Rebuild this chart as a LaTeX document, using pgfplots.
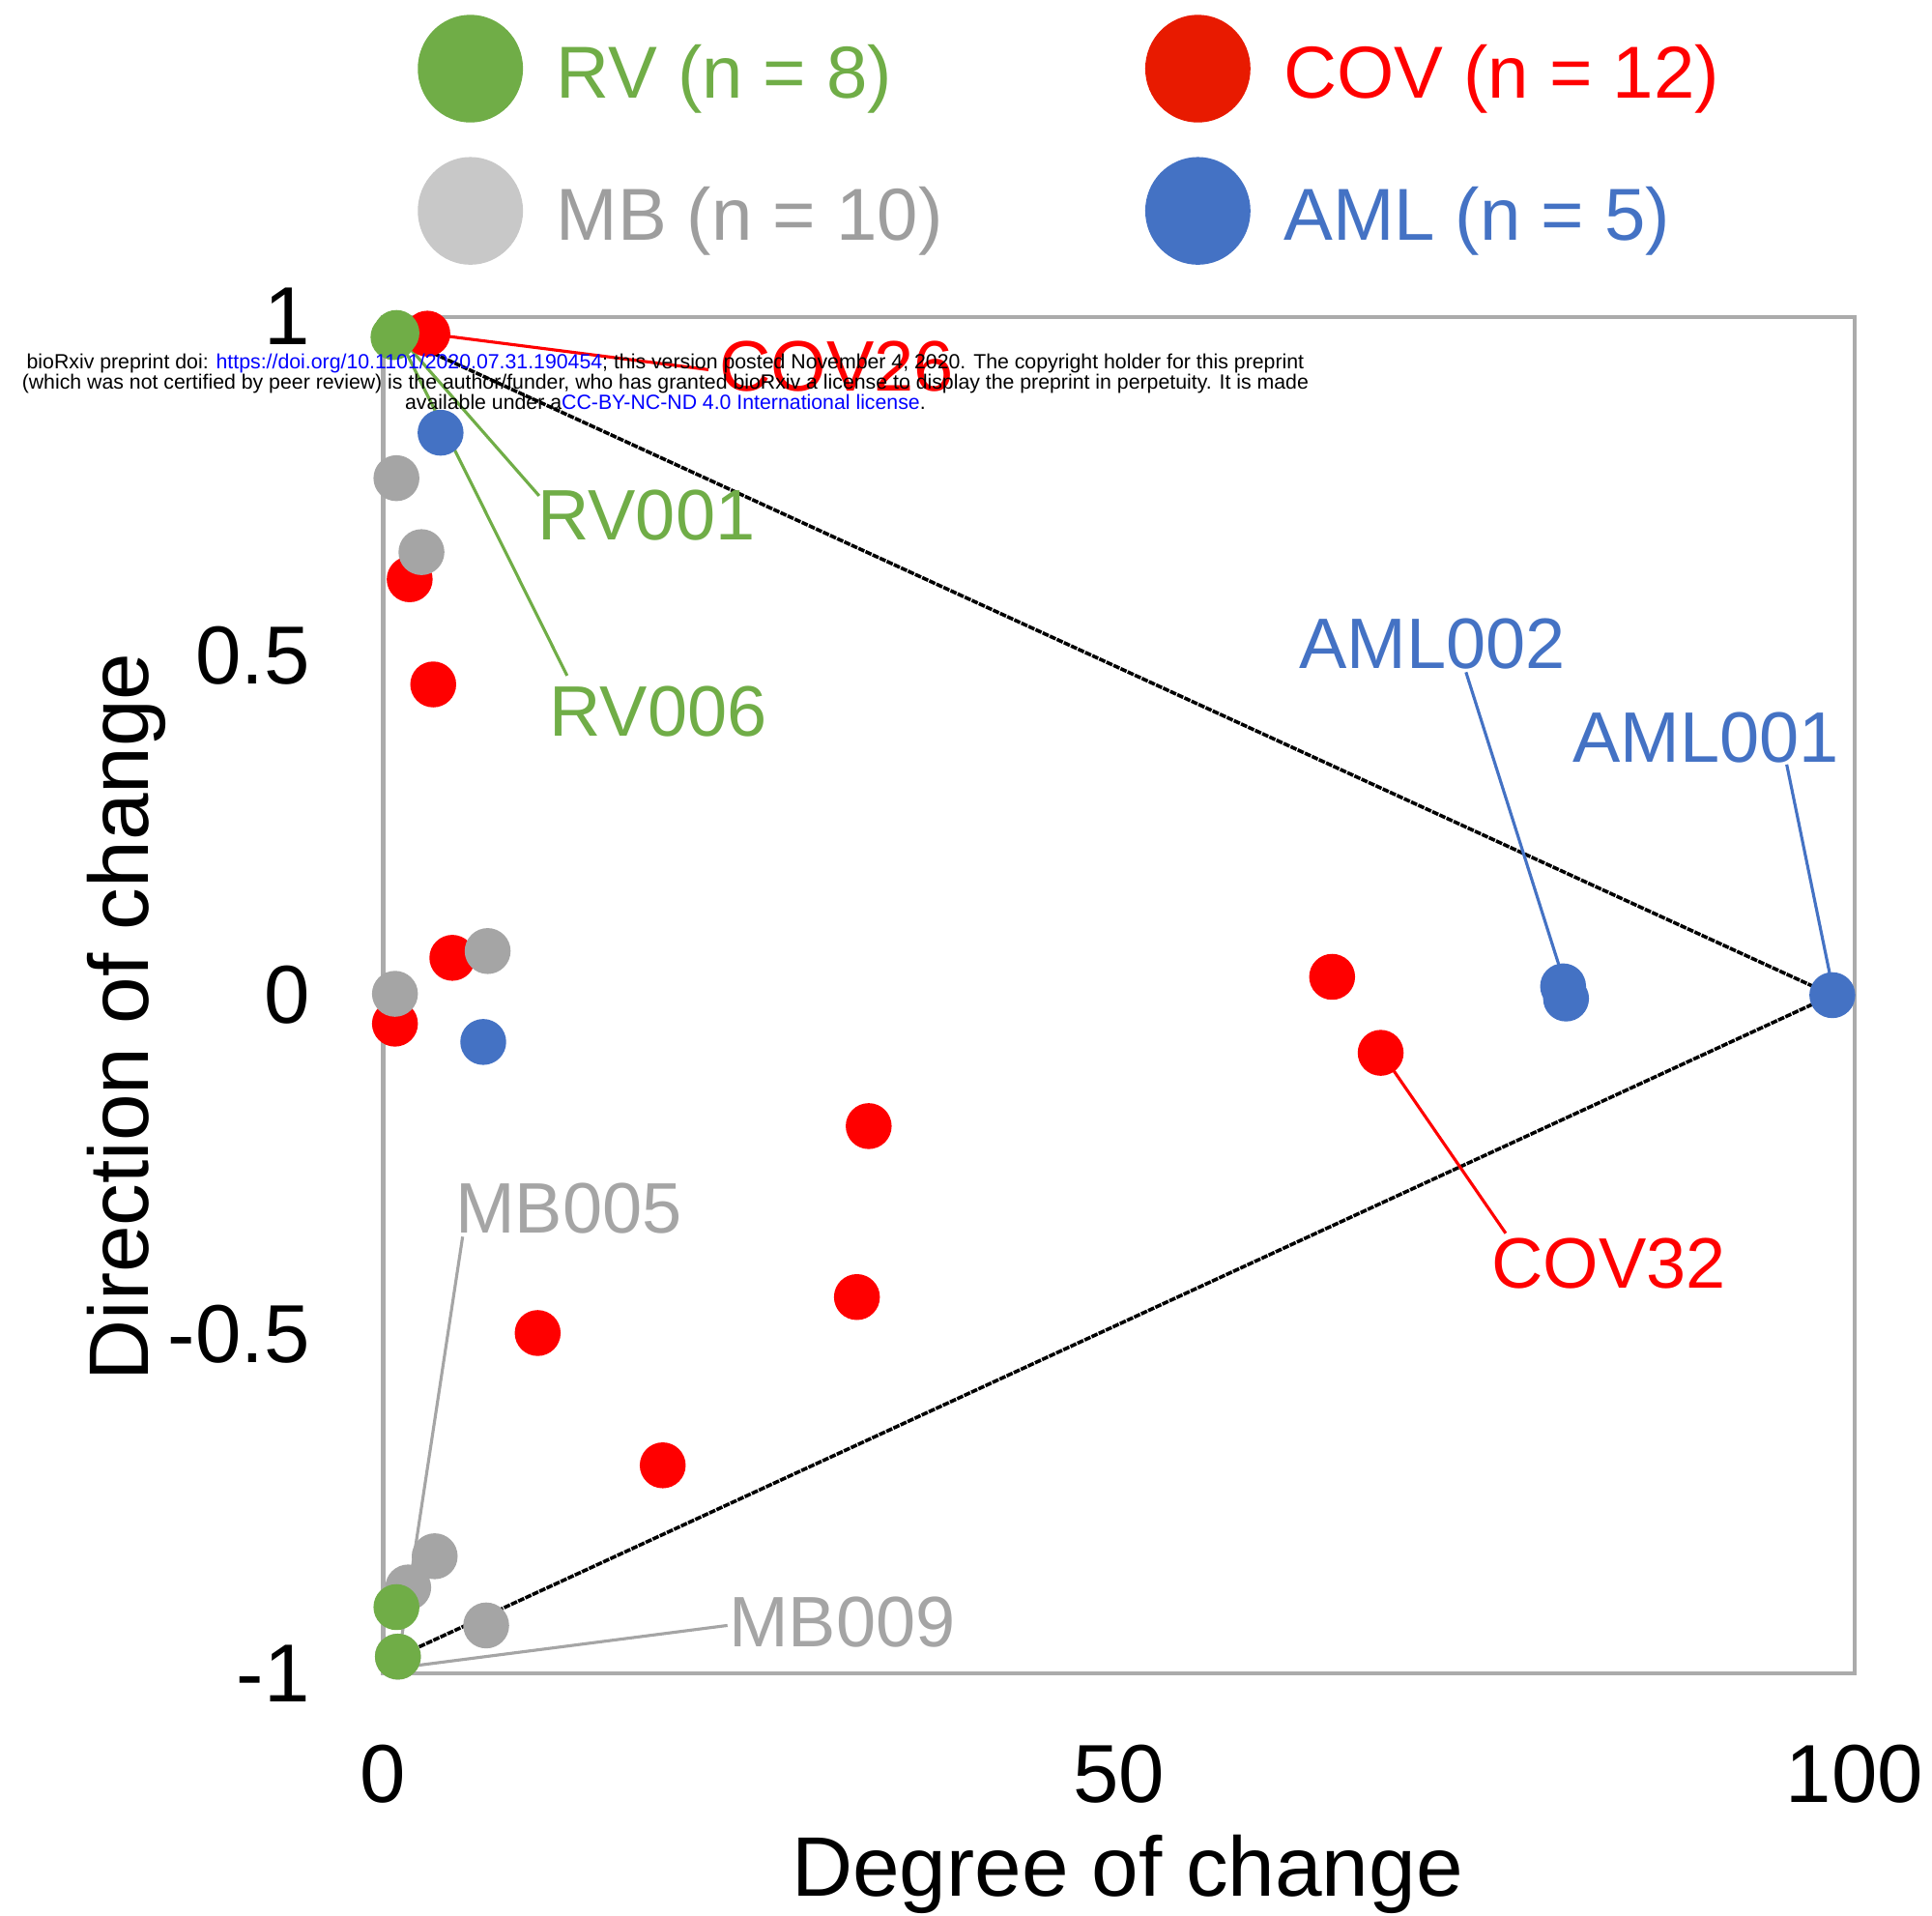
\documentclass[border=0pt]{standalone}
\usepackage{pgfplots}
\pgfplotsset{compat=1.18}
\usepackage{fontspec}
\setmainfont{Liberation Sans}
\definecolor{rvg}{HTML}{70AD47}
\definecolor{covr}{HTML}{FF0000}
\definecolor{covleg}{HTML}{E81A00}
\definecolor{mbg}{HTML}{A5A5A5}
\definecolor{mbleg}{HTML}{C8C8C8}
\definecolor{mbtxt}{HTML}{9E9E9E}
\definecolor{amlb}{HTML}{4472C4}
\definecolor{axg}{HTML}{ABABAB}
\definecolor{linkb}{HTML}{0000FF}
\begin{document}
\begin{tikzpicture}[x=1cm,y=1cm]
\useasboundingbox (-3.11,-1.96) rectangle (12.57,13.58);
\begin{axis}[
  at={(0,0)}, anchor=south west,
  width=11.94cm, height=11.01cm, scale only axis,
  xmin=0, xmax=100, ymin=-1, ymax=1,
  clip=false,
  xtick={0,50,100}, xticklabels={0,50,100},
  ytick={-1,-0.5,0,0.5,1}, yticklabels={-1,-0.5,0,0.5,1},
  /pgf/number format/assume math mode=true,
  major tick length=0pt,
  axis line style={draw=axg, line width=0.9pt},
  tick label style={font=\fontsize{19}{19}\selectfont, inner sep=0pt},
  yticklabel style={xshift=-0.59cm},
  xticklabel style={yshift=-0.57cm},
  xlabel={Degree of change},
  ylabel={Direction of change},
  label style={font=\fontsize{19.5}{19.5}\selectfont, inner sep=0pt},
  xlabel style={at={(axis description cs:0.5059,-0.118)}, anchor=north},
  ylabel style={at={(axis description cs:-0.1474,0.4841)}, anchor=south, rotate=0},
  legend columns=2,
  legend style={at={(0.0235,1.2225)}, anchor=north west, draw=none, fill=none,
    inner sep=0pt, outer sep=0pt, column sep=0pt, row sep=0.28cm,
    font=\fontsize{17}{17}\selectfont, nodes={inner sep=0pt}},
  legend cell align=left,
  every mark/.append style={yscale=1.11},
]
% legend entries
\addlegendimage{legend image code/.code={\fill[rvg] (0.42cm,0.05cm) ellipse [x radius=0.42cm, y radius=0.43cm];}}
\addlegendentry{\hspace*{0.27cm}\makebox[4.78cm][l]{\textcolor{rvg}{RV (n = 8)}}}
\addlegendimage{legend image code/.code={\fill[covleg] (0.42cm,0.05cm) ellipse [x radius=0.42cm, y radius=0.43cm];}}
\addlegendentry{\hspace*{0.27cm}\makebox[4.5cm][l]{\textcolor{covr}{COV (n = 12)}}}
\addlegendimage{legend image code/.code={\fill[mbleg] (0.42cm,0.05cm) ellipse [x radius=0.42cm, y radius=0.43cm];}}
\addlegendentry{\hspace*{0.27cm}\makebox[4.78cm][l]{\textcolor{mbtxt}{MB (n = 10)}}}
\addlegendimage{legend image code/.code={\fill[amlb] (0.42cm,0.05cm) ellipse [x radius=0.42cm, y radius=0.43cm];}}
\addlegendentry{\hspace*{0.27cm}\makebox[4.5cm][l]{\textcolor{amlb}{AML (n = 5)}}}

% triangle guide lines
\addplot[black, line width=0.8pt, dash pattern=on 1.5pt off 0.3pt, forget plot] coordinates {(1.0,0.97) (98.5,0.0)};
\addplot[black, line width=0.8pt, dash pattern=on 1.5pt off 0.3pt, forget plot] coordinates {(1.0,-0.975) (98.5,0.0)};

% COV
\addplot[only marks, mark=*, mark size=5.1pt, color=covr, forget plot] coordinates {
(3.0,0.975) (1.8,0.613) (3.4,0.458) (4.7,0.055) (0.8,-0.042) (33.0,-0.193)
(64.5,0.027) (67.8,-0.085) (32.2,-0.445) (10.5,-0.498) (19.0,-0.693)
};
% MB
\addplot[only marks, mark=*, mark size=5.1pt, color=mbg, forget plot] coordinates {
(0.9,0.762) (2.6,0.653) (7.1,0.065) (0.8,0.002) (3.5,-0.827) (1.7,-0.873)
(7.0,-0.929) (1.0,-0.975)
};
% AML
\addplot[only marks, mark=*, mark size=5.1pt, color=amlb, forget plot] coordinates {
(3.9,0.829) (6.8,-0.069) (80.2,0.013) (80.4,-0.005) (98.5,0.0)
};
% RV
\addplot[only marks, mark=*, mark size=5.1pt, color=rvg, forget plot] coordinates {
(0.9,0.976) (0.7,0.970) (0.9,-0.902) (1.0,-0.975)
};

% leader lines
\addplot[covr, line width=0.7pt, forget plot] coordinates {(3.0,0.975) (22.1,0.922)};
\addplot[rvg, line width=0.7pt, forget plot] coordinates {(0.9,0.976) (10.6,0.736)};
\addplot[rvg, line width=0.7pt, forget plot] coordinates {(0.9,0.976) (12.5,0.471)};
\addplot[amlb, line width=0.7pt, forget plot] coordinates {(73.6,0.476) (80.3,0.018)};
\addplot[amlb, line width=0.7pt, forget plot] coordinates {(95.4,0.340) (98.5,0.013)};
\addplot[covr, line width=0.7pt, forget plot] coordinates {(68.2,-0.096) (76.3,-0.351)};
\addplot[mbg, line width=0.7pt, forget plot] coordinates {(5.4,-0.356) (1.1,-0.969)};
\addplot[mbg, line width=0.7pt, forget plot] coordinates {(23.4,-0.929) (1.2,-0.991)};

% labels
\node[text=covr, font=\fontsize{16.5}{16.5}\selectfont] at (axis cs:30.8,0.927) {COV26};
\node[text=rvg, font=\fontsize{16.5}{16.5}\selectfont] at (axis cs:17.9,0.707) {RV001};
\node[text=rvg, font=\fontsize{16.5}{16.5}\selectfont] at (axis cs:18.7,0.418) {RV006};
\node[text=amlb, font=\fontsize{16.5}{16.5}\selectfont] at (axis cs:71.3,0.518) {AML002};
\node[text=amlb, font=\fontsize{16.5}{16.5}\selectfont] at (axis cs:89.9,0.380) {AML001};
\node[text=covr, font=\fontsize{16.5}{16.5}\selectfont] at (axis cs:83.3,-0.396) {COV32};
\node[text=mbg, font=\fontsize{16.5}{16.5}\selectfont] at (axis cs:12.6,-0.315) {MB005};
\node[text=mbg, font=\fontsize{16.5}{16.5}\selectfont] at (axis cs:31.2,-0.924) {MB009};
\end{axis}
\node[align=center, font=\fontsize{4.75}{4.7}\selectfont, inner sep=0pt] at (2.29,10.48) {bioRxiv preprint doi: \textcolor{linkb}{https://doi.org/10.1101/2020.07.31.190454}; this version posted November 4, 2020. The copyright holder for this preprint\\ (which was not certified by peer review) is the author/funder, who has granted bioRxiv a license to display the preprint in perpetuity. It is made\\ available under a\textcolor{linkb}{CC-BY-NC-ND 4.0 International license}.};
\end{tikzpicture}
\end{document}
